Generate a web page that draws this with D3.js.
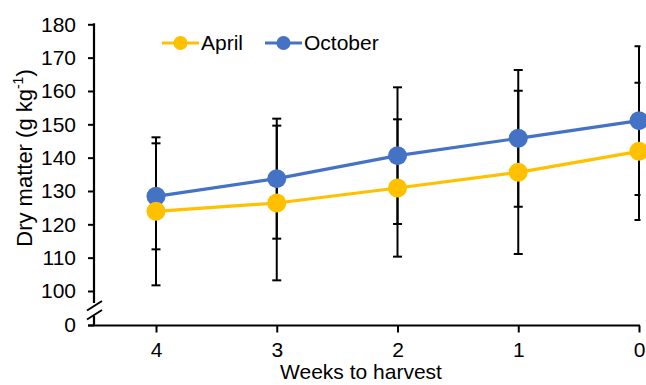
<!DOCTYPE html>
<html>
<head>
<meta charset="utf-8">
<script src="https://cdn.jsdelivr.net/npm/d3@7"></script>
<style>
  html, body { margin: 0; padding: 0; background: #fff; }
  svg { display: block; font-family: "Liberation Sans", Arial, sans-serif; }
</style>
</head>
<body>
<svg id="chart" width="646" height="385"></svg>
<script>
// Dry matter by weeks to harvest, two sowing seasons
const weeks = ["4", "3", "2", "1", "0"];
const april = [123.9, 126.4, 130.9, 135.6, 141.9];
const october = [128.4, 133.7, 140.6, 145.8, 151.1];
const aprilErr = [22.2, 23.2, 20.6, 24.5, 20.6];
const octoberErr = [15.9, 18.0, 20.5, 20.5, 22.3];
const yTicks = [100, 110, 120, 130, 140, 150, 160, 170, 180];
const yBreakTick = 0;

const seriesNames = ["April", "October"];
const seriesColors = ["#FFC000", "#4472C4"];

const svg = d3.select("#chart");
const fontSize = 21;

// Geometry of the plot
const axisX = 94;
const baseY = 325.5;        // x-axis (value 0, below the break)
const breakTop = 303, breakBottom = 316;

const x = d3.scalePoint().domain(weeks).range([156, 639]);
const y = d3.scaleLinear().domain([100, 180]).range([291, 24.3]);
// value on the continuous part, or the baseline for the broken-off 0
const yPos = v => v === yBreakTick ? baseY : y(v);

const series = [
  { name: "October", values: october, err: octoberErr, color: seriesColors[1] },
  { name: "April", values: april, err: aprilErr, color: seriesColors[0] }
];

// ---- Y axis (drawn in two pieces with a break) ----
const yAxis = d3.axisLeft(y).tickValues(yTicks).tickSize(6).tickPadding(12);
const gy = svg.append("g").attr("transform", `translate(${axisX},0)`).call(yAxis);
gy.select(".domain").remove();
gy.selectAll(".tick line").attr("stroke", "#000").attr("stroke-width", 2);
gy.selectAll(".tick text").attr("font-size", fontSize).attr("fill", "#000")
  .attr("font-family", "Liberation Sans, Arial, sans-serif");

svg.append("line").attr("x1", axisX).attr("x2", axisX)
  .attr("y1", y(180) - 1).attr("y2", breakTop)
  .attr("stroke", "#000").attr("stroke-width", 2.2);
svg.append("line").attr("x1", axisX).attr("x2", axisX)
  .attr("y1", breakBottom).attr("y2", baseY)
  .attr("stroke", "#000").attr("stroke-width", 2.2);
// break marks
[0, 9].forEach(dy => {
  svg.append("line")
    .attr("x1", axisX - 7).attr("y1", 310.5 + dy)
    .attr("x2", axisX + 8).attr("y2", 301 + dy)
    .attr("stroke", "#000").attr("stroke-width", 2);
});
// "0" tick below the break
svg.append("line").attr("x1", axisX - 6).attr("x2", axisX)
  .attr("y1", yPos(yBreakTick)).attr("y2", yPos(yBreakTick))
  .attr("stroke", "#000").attr("stroke-width", 2);
svg.append("text").attr("x", axisX - 18).attr("y", yPos(yBreakTick))
  .attr("text-anchor", "end").attr("dy", "0.32em")
  .attr("font-size", fontSize).attr("fill", "#000").text(String(yBreakTick));

// ---- X axis ----
const xAxis = d3.axisBottom(x).tickSize(7).tickPadding(10);
const gx = svg.append("g").attr("transform", `translate(0,${baseY})`).call(xAxis);
gx.select(".domain").remove();
gx.selectAll(".tick line").attr("stroke", "#000").attr("stroke-width", 2);
gx.selectAll(".tick text").attr("font-size", fontSize).attr("fill", "#000")
  .attr("font-family", "Liberation Sans, Arial, sans-serif");
svg.append("line").attr("x1", axisX - 6).attr("x2", x("0") + 1)
  .attr("y1", baseY).attr("y2", baseY)
  .attr("stroke", "#000").attr("stroke-width", 2.2);

// ---- Axis titles ----
svg.append("text").attr("x", 361).attr("y", 379)
  .attr("text-anchor", "middle").attr("font-size", fontSize).attr("fill", "#000")
  .text("Weeks to harvest");

const yTitle = svg.append("text")
  .attr("transform", `translate(32,158) rotate(-90)`)
  .attr("text-anchor", "middle").attr("font-size", 22).attr("fill", "#000");
yTitle.append("tspan").text("Dry matter (g kg");
yTitle.append("tspan").attr("font-size", 14).attr("dy", -9).text("-1");
yTitle.append("tspan").attr("dy", 9).text(")");

// ---- Series ----
svg.append("defs").append("clipPath").attr("id", "plotClip")
  .append("rect").attr("x", 0).attr("y", 0).attr("width", 640.5).attr("height", 385);

const line = d3.line().x((d, i) => x(weeks[i])).y(d => y(d));

series.forEach(s => {
  svg.append("path").datum(s.values)
    .attr("d", line).attr("fill", "none")
    .attr("stroke", s.color).attr("stroke-width", 3.2);
});

// error bars
const eb = svg.append("g").attr("clip-path", "url(#plotClip)")
  .attr("stroke", "#000").attr("stroke-width", 2);
series.forEach(s => {
  s.values.forEach((v, i) => {
    const cx = x(weeks[i]);
    const hi = y(v + s.err[i]), lo = y(v - s.err[i]);
    eb.append("line").attr("x1", cx).attr("x2", cx).attr("y1", hi).attr("y2", lo);
    eb.append("line").attr("x1", cx - 4.5).attr("x2", cx + 4.5).attr("y1", hi).attr("y2", hi);
    eb.append("line").attr("x1", cx - 4.5).attr("x2", cx + 4.5).attr("y1", lo).attr("y2", lo);
  });
});

// markers
series.forEach(s => {
  svg.append("g").selectAll("circle").data(s.values).join("circle")
    .attr("cx", (d, i) => x(weeks[i])).attr("cy", d => y(d))
    .attr("r", 9.5).attr("fill", s.color);
});

// ---- Legend ----
const legendItems = [
  { name: seriesNames[0], color: seriesColors[0], x0: 162 },
  { name: seriesNames[1], color: seriesColors[1], x0: 265 }
];
const ly = 43;
legendItems.forEach(d => {
  svg.append("line").attr("x1", d.x0).attr("x2", d.x0 + 37)
    .attr("y1", ly).attr("y2", ly).attr("stroke", d.color).attr("stroke-width", 3.2);
  svg.append("circle").attr("cx", d.x0 + 18.5).attr("cy", ly).attr("r", 7).attr("fill", d.color);
  svg.append("text").attr("x", d.x0 + 39).attr("y", ly).attr("dy", "0.35em")
    .attr("font-size", fontSize).attr("fill", "#000").text(d.name);
});
</script>
</body>
</html>
